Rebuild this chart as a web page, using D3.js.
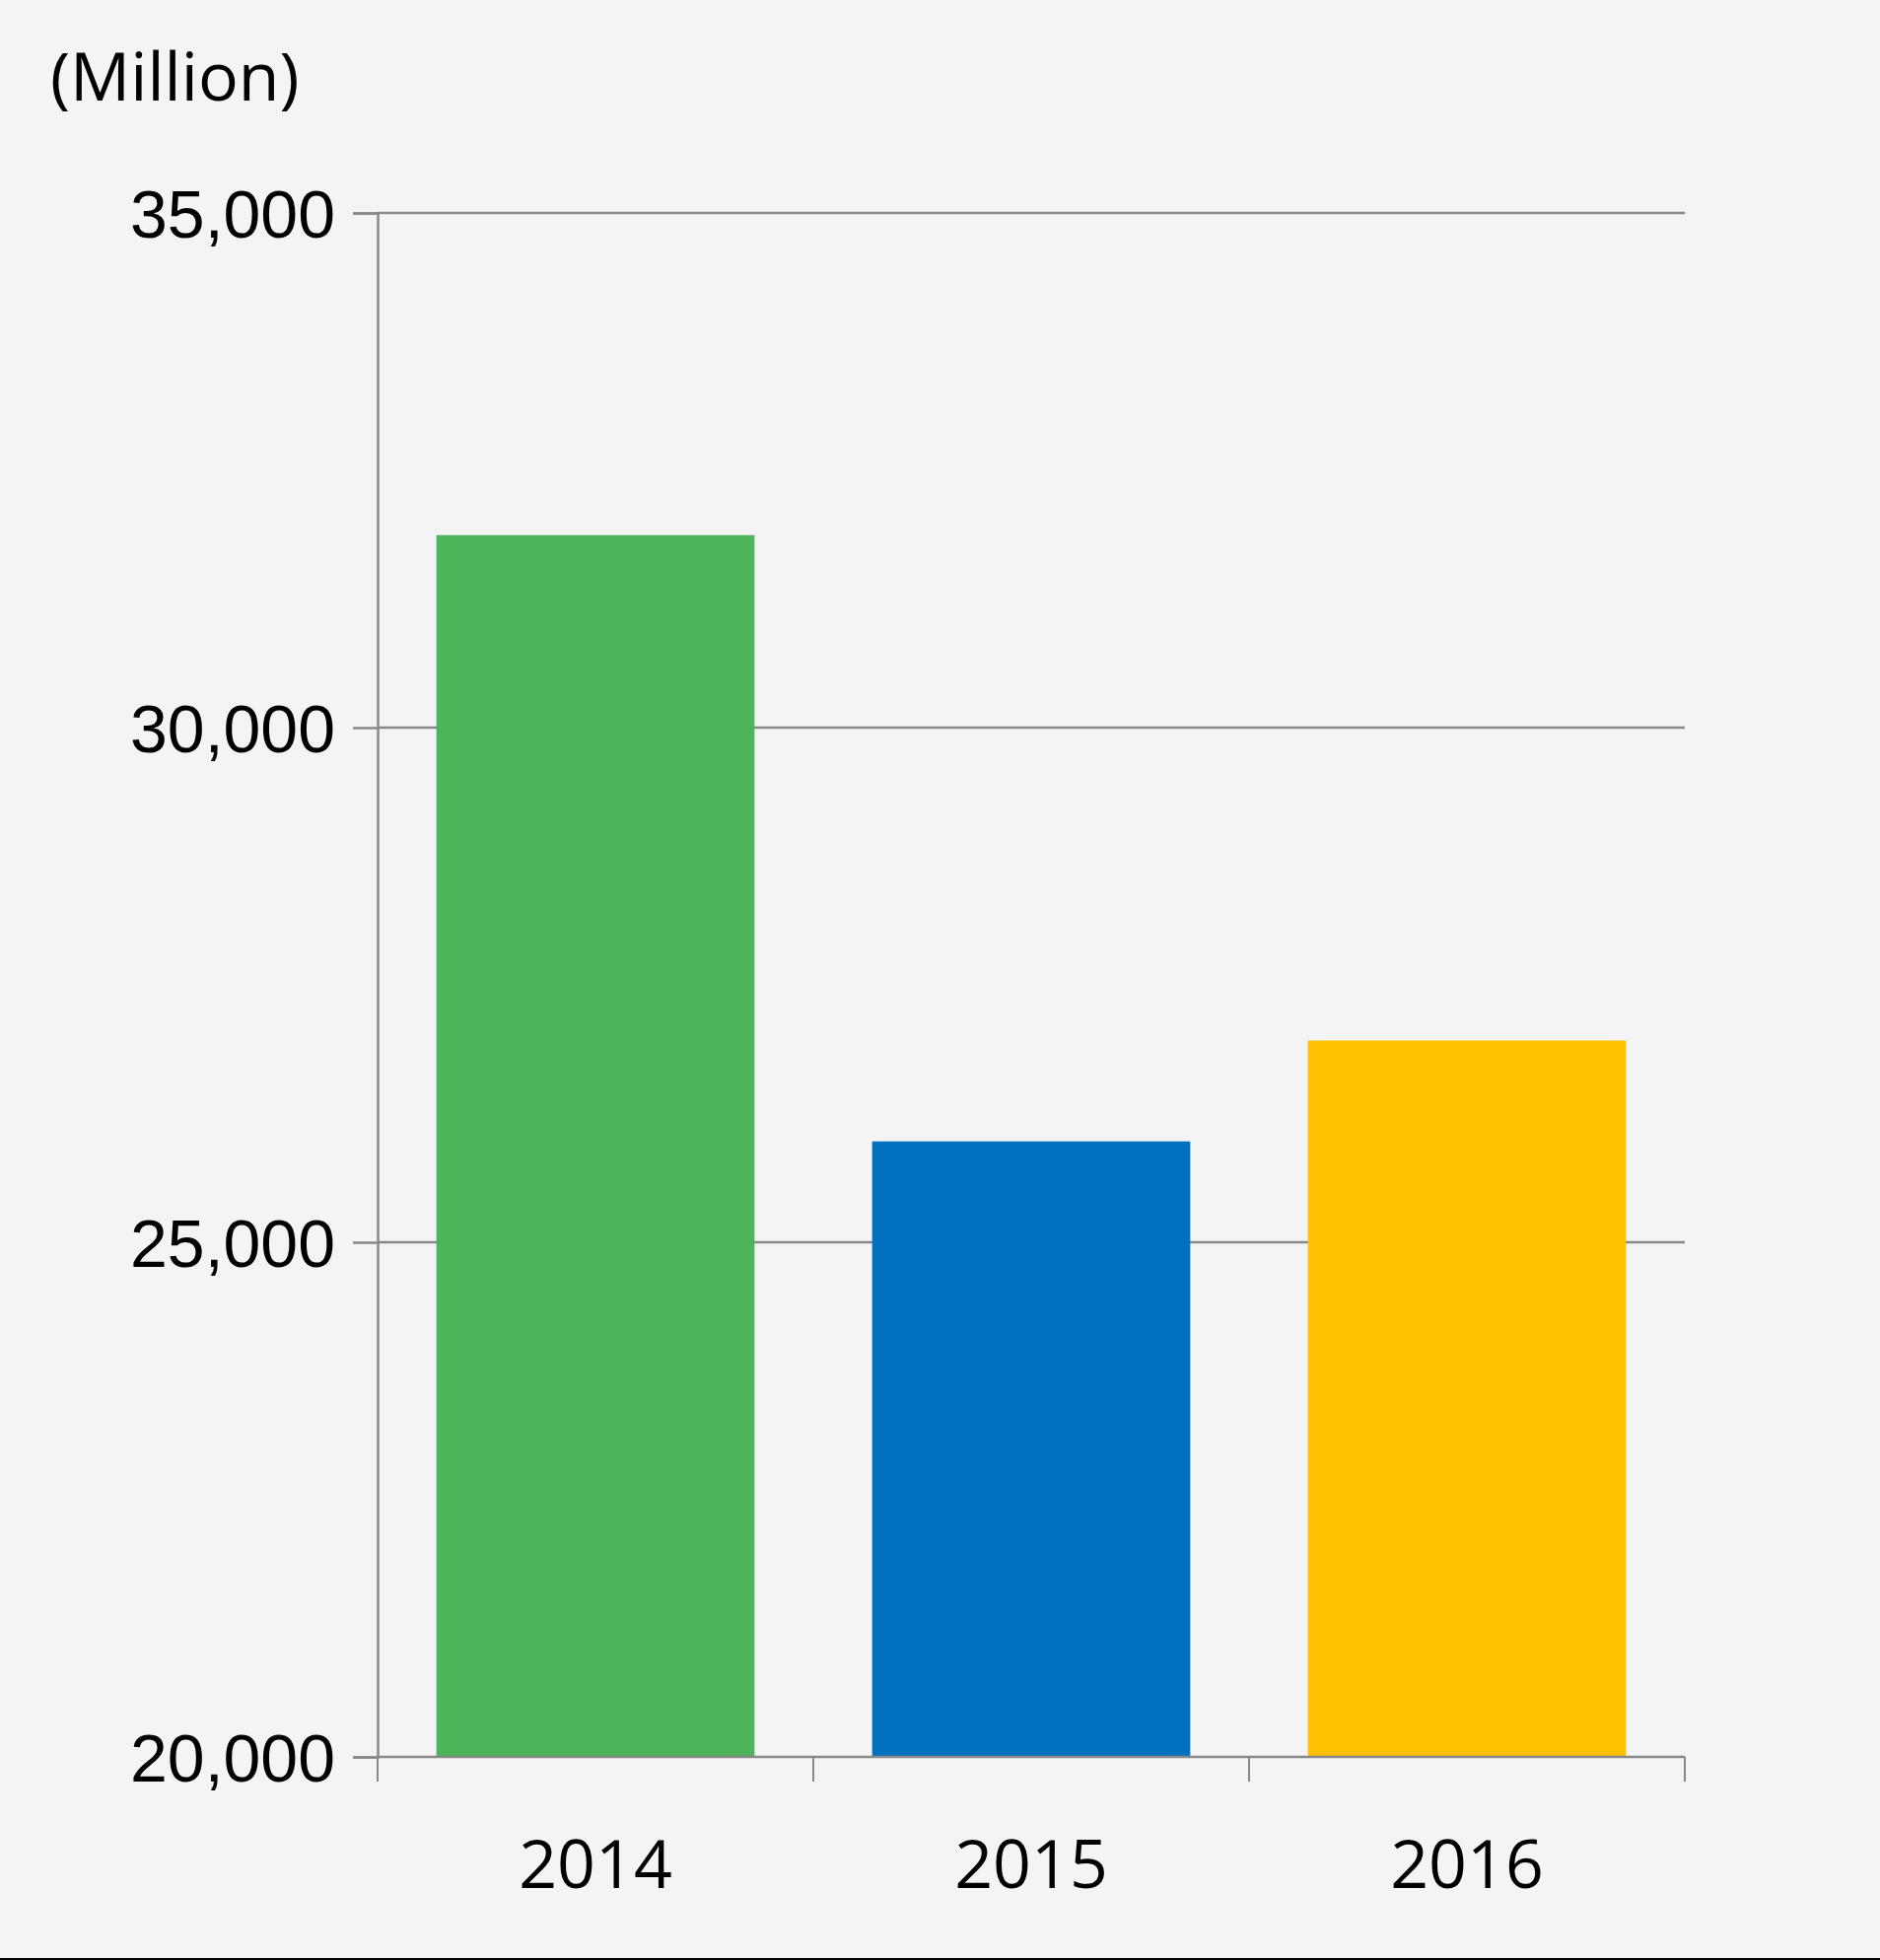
<!DOCTYPE html>
<html>
<head>
<meta charset="utf-8">
<script src="https://cdn.jsdelivr.net/npm/d3@7"></script>
<style>
  html, body { margin: 0; padding: 0; background: #f4f4f4; }
  svg { display: block; }
</style>
</head>
<body>
<div id="chart"></div>
<script>
// --- Data ---
const years = ["2014", "2015", "2016"];
const values = [31870, 25980, 26960];
const colors = ["#4eb45a", "#0070c0", "#ffc000"];
const yTicks = [20000, 25000, 30000, 35000];
const unitLabel = "(Million)";

const width = 1907, height = 1988;
const margin = {top: 216, right: 198, bottom: 206, left: 383};

const svg = d3.select("#chart").append("svg")
    .attr("width", width)
    .attr("height", height)
    .style("background", "#f4f4f4")
    .style("font-family", "'Open Sans', 'Noto Sans', sans-serif");

const x = d3.scaleBand()
    .domain(years)
    .range([margin.left, width - margin.right])
    .paddingInner(0.27)
    .paddingOuter(0.135);

const y = d3.scaleLinear()
    .domain([20000, 35000])
    .range([height - margin.bottom, margin.top]);

// gridlines
svg.append("g")
    .selectAll("line")
    .data(yTicks.slice(1))
    .enter().append("line")
    .attr("x1", margin.left)
    .attr("x2", width - margin.right)
    .attr("y1", d => y(d))
    .attr("y2", d => y(d))
    .attr("stroke", "#888")
    .attr("stroke-width", 2.5);

// bars
svg.append("g")
    .selectAll("rect")
    .data(years)
    .enter().append("rect")
    .attr("x", d => x(d))
    .attr("width", x.bandwidth())
    .attr("y", (d, i) => y(values[i]))
    .attr("height", (d, i) => y(20000) - y(values[i]))
    .attr("fill", (d, i) => colors[i]);

// y axis
const yAxis = svg.append("g")
    .attr("transform", `translate(${margin.left},0)`)
    .call(d3.axisLeft(y).tickValues(yTicks).tickFormat(d3.format(",")).tickSize(25).tickPadding(18));
yAxis.select(".domain").attr("stroke", "#888").attr("stroke-width", 2.5);
yAxis.selectAll(".tick line").attr("stroke", "#888").attr("stroke-width", 2.5);
yAxis.selectAll("text").attr("font-size", 68).attr("fill", "#000").attr("dy", "0.36em");

// x axis: ticks at band boundaries
const xLine = svg.append("g");
const bottomY = y(20000);
xLine.append("line")
    .attr("x1", margin.left).attr("x2", width - margin.right)
    .attr("y1", bottomY).attr("y2", bottomY)
    .attr("stroke", "#888").attr("stroke-width", 2.5);
const step = x.step();
const bounds = d3.range(years.length + 1).map(i => margin.left + i * (width - margin.right - margin.left) / years.length);
xLine.selectAll(".xt")
    .data(bounds)
    .enter().append("line")
    .attr("x1", d => d).attr("x2", d => d)
    .attr("y1", bottomY).attr("y2", bottomY + 25)
    .attr("stroke", "#888").attr("stroke-width", 2);

svg.append("g")
    .selectAll("text")
    .data(years)
    .enter().append("text")
    .attr("x", d => x(d) + x.bandwidth() / 2)
    .attr("y", 1915)
    .attr("text-anchor", "middle")
    .attr("font-size", 68)
    .text(d => d);

// unit label
svg.append("text")
    .attr("x", 51)
    .attr("y", 102)
    .attr("font-size", 68)
    .text(unitLabel);

// bottom border line
svg.append("line")
    .attr("x1", 0).attr("x2", width)
    .attr("y1", height - 1).attr("y2", height - 1)
    .attr("stroke", "#000").attr("stroke-width", 2);
</script>
</body>
</html>
